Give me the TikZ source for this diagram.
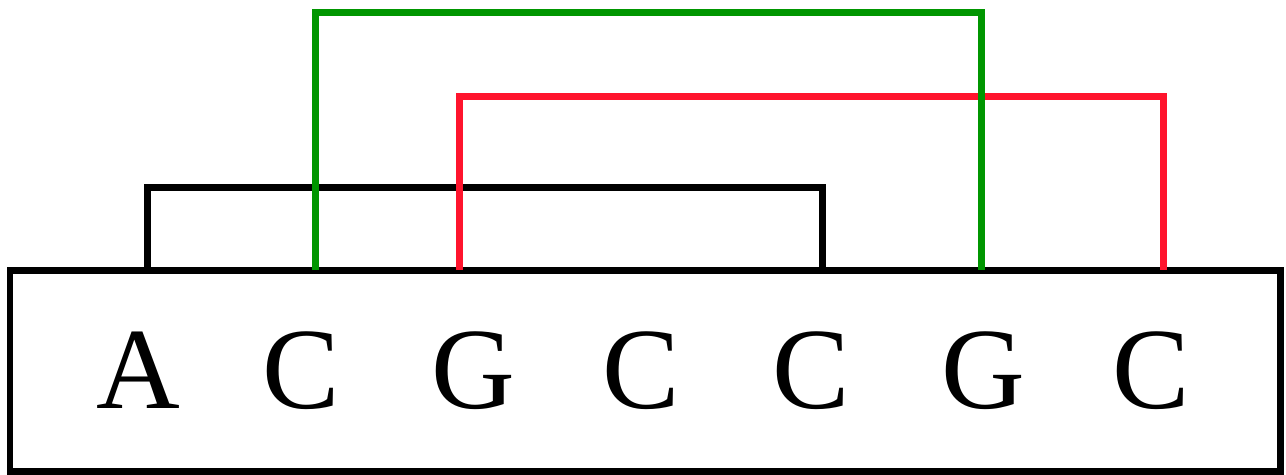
\documentclass[tikz,border=0pt]{standalone}
\usepackage{fontspec}
\setmainfont{LiberationSerif}[Extension=.ttf, UprightFont=*-Regular]
\usepackage{tikz}
\usetikzlibrary{positioning}
\definecolor{pairgreen}{RGB}{0,150,0}
\definecolor{pairred}{RGB}{255,20,45}
\tikzset{
  strandbox/.style ={draw, line width=0.14cm},
  base/.style      ={anchor=base, inner sep=0pt, font=\fontsize{66}{72}\selectfont},
  bond/.style      ={line width=0.14cm, line join=miter},
}
\begin{document}
\begin{tikzpicture}[x=0.02cm, y=-0.02cm]
  \useasboundingbox (0,0) rectangle (1286,474);
  % strand
  \draw[strandbox] (10,270) rectangle (1280,471);
  \foreach \b/\x [count=\i] in {A/138, C/301, G/473, C/641, C/811, G/983, C/1151}
    \node[base] (b\i) at (\x,408) {\b};

  % pair ends on the top edge
  \coordinate (a1) at (147,270); \coordinate (a2) at (822,270);
  \coordinate (g1) at (315,270); \coordinate (g2) at (981,270);
  \coordinate (r1) at (459,270); \coordinate (r2) at (1163,270);

  \draw[bond, black]     (a1) -- (a1 |- 0,187) -- (a2 |- 0,187) -- (a2);
  \draw[bond, pairred]   (r1) -- (r1 |- 0,96)  -- (r2 |- 0,96)  -- (r2);
  \draw[bond, pairgreen] (g1) -- (g1 |- 0,12)  -- (g2 |- 0,12)  -- (g2);
\end{tikzpicture}
\end{document}
